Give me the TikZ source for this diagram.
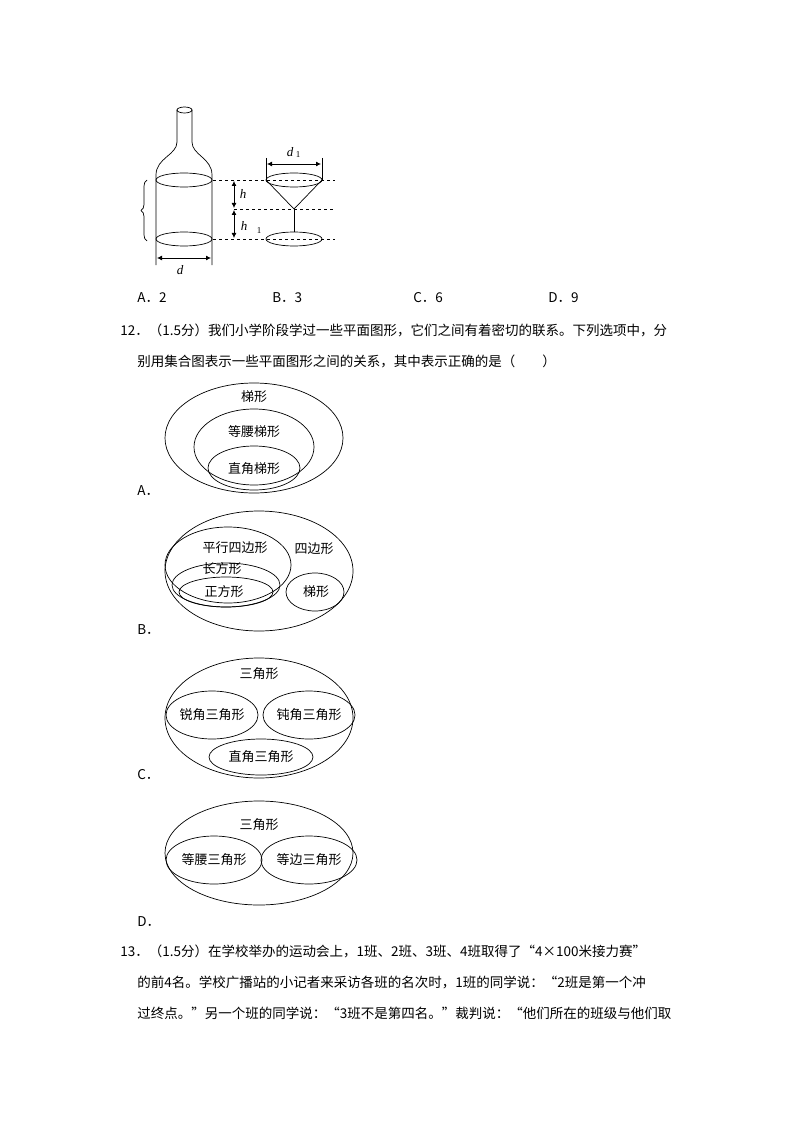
\documentclass[tikz,border=0pt]{standalone}
\usepackage{fontspec}
\setmainfont{Liberation Serif}
\newfontfamily\cjk{Noto Sans CJK SC}
\usetikzlibrary{arrows.meta,decorations.pathreplacing}
\begin{document}
\begin{tikzpicture}[x=1pt,y=-1pt,line width=0.7pt,
  txt/.style={anchor=west,inner sep=0pt,font=\cjk\fontsize{13.5}{14}\selectfont},
  lab/.style={inner sep=0pt,font=\cjk\fontsize{13}{14}\selectfont},
  it/.style={inner sep=0pt,font=\itshape\fontsize{13}{14}\selectfont},
  dline/.style={dashed,line width=0.6pt},
  dim/.style={{Latex[length=5pt,width=5pt]}-{Latex[length=5pt,width=5pt]},line width=0.8pt}]
\useasboundingbox (0,0) rectangle (794,1123);
% bottle
\draw (184.5,110) ellipse (7.5 and 3);
\draw (177,110) -- (177,142) .. controls (177,155) and (156,158) .. (156,175) -- (156,265);
\draw (192,110) -- (192,142) .. controls (192,155) and (212,158) .. (212,175) -- (212,265);
\draw (184,180) ellipse (28 and 7);
\draw (184,239) ellipse (28 and 7);
\draw[dim] (157,258) -- (211,258);
\node[it] (d) at (180,270) {d};
\draw[decorate,decoration={brace,amplitude=6pt}] (147,241) -- (147,180);
\coordinate (t1) at (213,180); \coordinate (t2) at (335,180);
\draw[dline] (t1) -- (t2);
\draw[dline] (234,209) -- (335,209);
\draw[dline] (213,239) -- (335,239);
\draw[dim] (234,181) -- (234,208);
\draw[dim] (234,210) -- (234,238);
\node[it] (h) at (243,194) {h};
\node[it] (h1) at (244,226) {h};
\node[inner sep=0pt,font=\fontsize{9}{10}\selectfont] at (259,231) {1};
% glass
\draw (294,180) ellipse (28 and 7);
\draw (266,180) -- (294,209) -- (322,180);
\draw (294,209) -- (294,232);
\draw (294,239) ellipse (28 and 7);
\draw (266,158) -- (266,180); \draw (322,158) -- (322,180);
\draw[dim] (267,164) -- (321,164);
\node[it] at (290,152) {d};
\node[inner sep=0pt,font=\fontsize{9}{10}\selectfont] at (298,155) {1};
% options row
\node[txt] at (137,298) {A．2};
\node[txt] at (272,298) {B．3};
\node[txt] at (413,298) {C．6};
\node[txt] at (548,298) {D．9};
\node[txt] at (120,330) {12．（1.5分）我们小学阶段学过一些平面图形，它们之间有着密切的联系。下列选项中，分};
\node[txt] at (137,361) {别用集合图表示一些平面图形之间的关系，其中表示正确的是（　　）};
% A
\draw (254,438) ellipse (89 and 55);
\draw (254,447) ellipse (60 and 38);
\draw (254,468) ellipse (46 and 22);
\node[lab] at (254,397) {梯形};
\node[lab] at (254,432) {等腰梯形};
\node[lab] at (254,469) {直角梯形};
\node[txt] at (137,491) {A．};
% B
\draw (259,571) ellipse (94 and 60);
\draw (228,565) ellipse (63 and 38);
\draw (226,585) ellipse (54 and 22);
\draw (226,592) ellipse (47 and 15);
\draw (315,592) ellipse (29 and 19);
\node[lab] at (235,548) {平行四边形};
\node[lab] at (314,549) {四边形};
\node[lab] at (222,569) {长方形};
\node[lab] at (224,592) {正方形};
\node[lab] at (316,592) {梯形};
\node[txt] at (137,630) {B．};
% C
\draw (259,718) ellipse (94 and 60);
\draw (212,715) ellipse (46 and 24);
\draw (309,715) ellipse (46 and 24);
\draw (261,757) ellipse (52 and 18);
\node[lab] at (259,674) {三角形};
\node[lab] at (212,715) {锐角三角形};
\node[lab] at (309,715) {钝角三角形};
\node[lab] at (261,757) {直角三角形};
\node[txt] at (137,775) {C．};
% D
\draw (259,853) ellipse (94 and 52);
\draw (214,860) ellipse (48 and 24);
\draw (309,860) ellipse (48 and 24);
\node[lab] at (259,825) {三角形};
\node[lab] at (214,860) {等腰三角形};
\node[lab] at (309,860) {等边三角形};
\node[txt] at (137,922) {D．};
% 13
\node[txt] at (120,951) {13．（1.5分）在学校举办的运动会上，1班、2班、3班、4班取得了“4×100米接力赛”};
\node[txt] at (137,982) {的前4名。学校广播站的小记者来采访各班的名次时，1班的同学说：“2班是第一个冲};
\node[txt] at (137,1013) {过终点。”另一个班的同学说：“3班不是第四名。”裁判说：“他们所在的班级与他们取};
\end{tikzpicture}
\end{document}
